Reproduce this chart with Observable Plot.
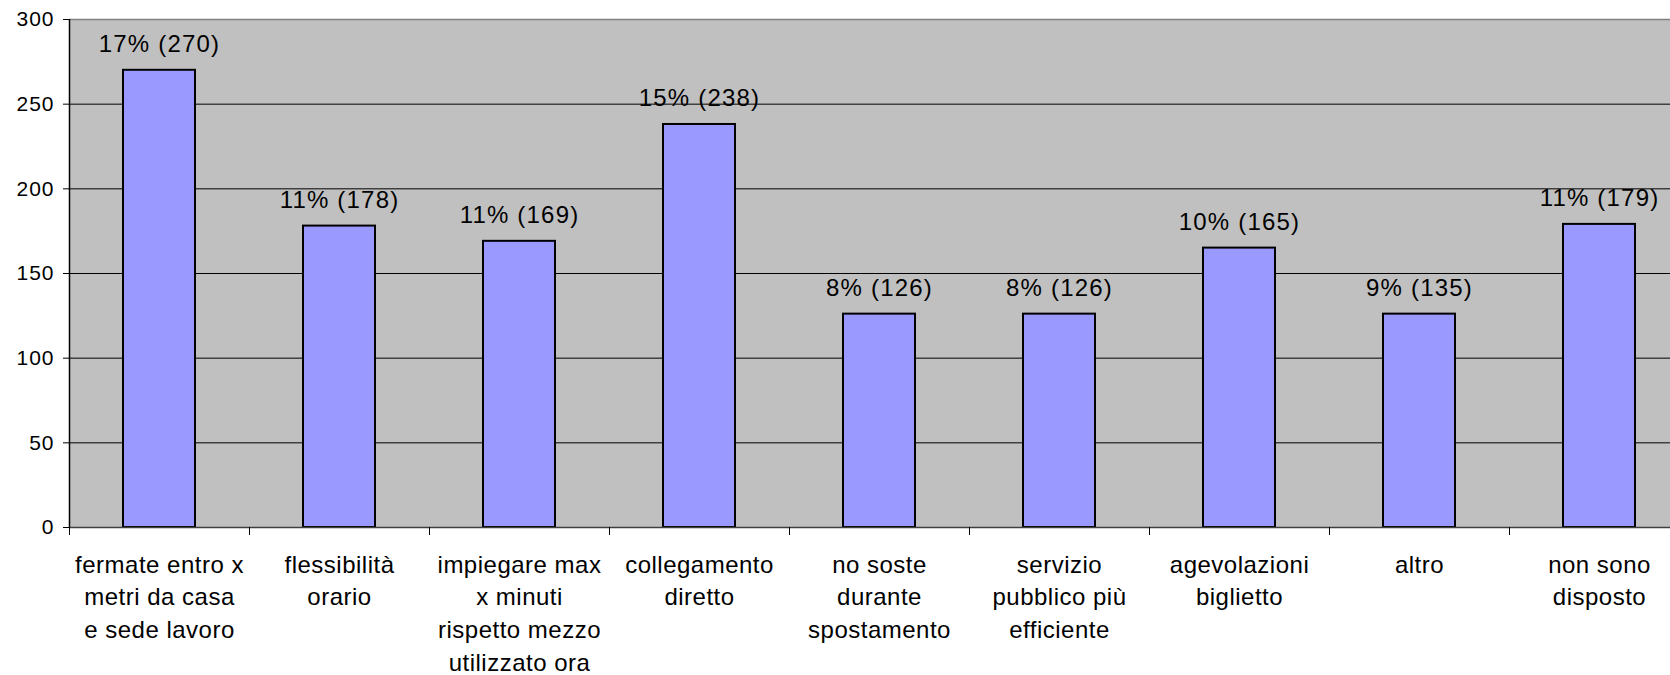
<!DOCTYPE html>
<html>
<head>
<meta charset="utf-8">
<script src="https://cdn.jsdelivr.net/npm/d3@7"></script>
<script src="https://cdn.jsdelivr.net/npm/@observablehq/plot@0.6"></script>
<style>
  html, body { margin: 0; padding: 0; background: #fff; overflow: hidden; }
  #chart svg { display: block; overflow: hidden; }
</style>
</head>
<body>
<div id="chart"></div>
<script>
const categories = [
  "fermate entro x\nmetri da casa\ne sede lavoro",
  "flessibilità\norario",
  "impiegare max\nx minuti\nrispetto mezzo\nutilizzato ora",
  "collegamento\ndiretto",
  "no soste\ndurante\nspostamento",
  "servizio\npubblico più\nefficiente",
  "agevolazioni\nbiglietto",
  "altro",
  "non sono\ndisposto"
];
const values = [270, 178, 169, 238, 126, 126, 165, 126, 179];
const valueLabels = ["17% (270)", "11% (178)", "11% (169)", "15% (238)", "8% (126)", "8% (126)", "10% (165)", "9% (135)", "11% (179)"];
const yTicks = [0, 50, 100, 150, 200, 250, 300];

const data = categories.map((c, i) => ({i, category: c, value: values[i], label: valueLabels[i]}));
const n = categories.length;

const chart = Plot.plot({
  width: 1670,
  height: 675,
  marginLeft: 69,
  marginRight: 0,
  marginTop: 19,
  marginBottom: 148,
  style: {fontFamily: "'Liberation Sans', Arial, sans-serif", background: "#fff", color: "#000"},
  x: {type: "linear", domain: [0, n], range: [69, 1689], axis: null},
  y: {domain: [0, 300], axis: null},
  marks: [
    Plot.frame({fill: "#C0C0C0", stroke: null}),
    Plot.ruleY(yTicks.filter(t => t > 0 && t < 300), {stroke: "#000", strokeWidth: 1}),
    Plot.ruleY([300], {stroke: "#808080", strokeWidth: 1.5}),
    Plot.rectY(data, {
      x1: d => d.i + 0.3,
      x2: d => d.i + 0.7,
      y: "value",
      fill: "#9999FF",
      stroke: "#000",
      strokeWidth: 2
    }),
    Plot.ruleY([0], {stroke: "#404040", strokeWidth: 1.5}),
    Plot.ruleX([0], {stroke: "#000", strokeWidth: 1.5}),
    Plot.axisY({ticks: yTicks, label: null, tickSize: 6, tickPadding: 9, fontSize: 21, stroke: "#000", strokeWidth: 1}),
    Plot.axisX({ticks: d3.range(n + 1), label: null, tickSize: 8, tickFormat: () => "", stroke: "#000", strokeWidth: 1}),
    Plot.text(data, {
      x: d => d.i + 0.5,
      y: 0,
      text: "category",
      lineAnchor: "top",
      lineHeight: 1.36,
      dy: 22,
      fontSize: 24,
      fill: "#000"
    }),
    Plot.text(data, {
      x: d => d.i + 0.5,
      y: "value",
      text: "label",
      dy: -26,
      fontSize: 24,
      fill: "#000"
    })
  ]
});
document.getElementById("chart").appendChild(chart);

// letter spacing to mimic the original's wider rendering
const textGroups = d3.select(chart).selectAll('g[aria-label="text"]').nodes();
if (textGroups[0]) d3.select(textGroups[0]).style("letter-spacing", "0.5px");
if (textGroups[1]) d3.select(textGroups[1]).style("letter-spacing", "1.2px");
d3.select(chart).selectAll('g[aria-label="y-axis tick label"]').style("letter-spacing", "1px");
</script>
</body>
</html>
